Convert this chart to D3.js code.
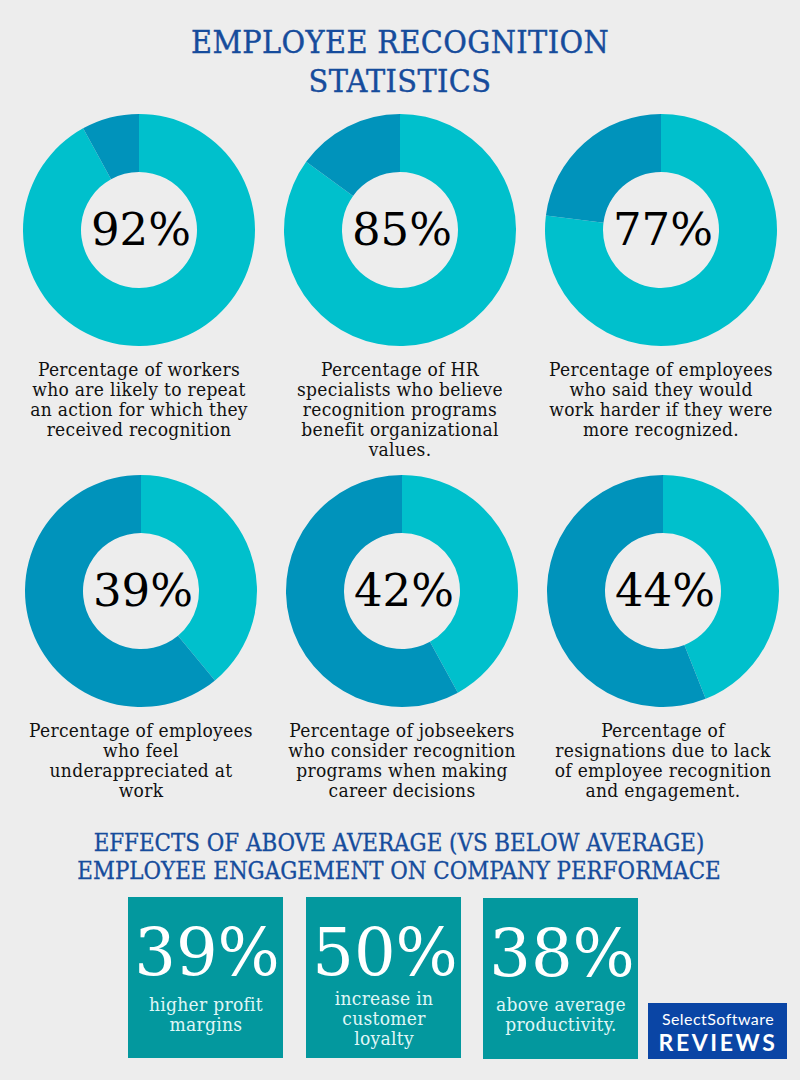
<!DOCTYPE html>
<html>
<head>
<meta charset="utf-8">
<script src="https://cdn.jsdelivr.net/npm/d3@7"></script>
<style>
  html, body { margin: 0; padding: 0; background: #ededed; }
  svg { display: block; }
  .slab { font-family: "DejaVu Serif Condensed", "DejaVu Serif", serif; }
  .wide { font-family: "DejaVu Serif", serif; }
</style>
</head>
<body>
<svg id="chart" width="800" height="1080"></svg>
<script>
// data
const titleLines = ["EMPLOYEE RECOGNITION", "STATISTICS"];
const donutValues = [92, 85, 77, 39, 42, 44];
const donutCaptions = [
  ["Percentage of workers", "who are likely to repeat", "an action for which they", "received recognition"],
  ["Percentage of HR", "specialists who believe", "recognition programs", "benefit organizational", "values."],
  ["Percentage of employees", "who said they would", "work harder if they were", "more recognized."],
  ["Percentage of employees", "who feel", "underappreciated at", "work"],
  ["Percentage of jobseekers", "who consider recognition", "programs when making", "career decisions"],
  ["Percentage of", "resignations due to lack", "of employee recognition", "and engagement."]
];
const subtitleLines = ["EFFECTS OF ABOVE AVERAGE (VS BELOW AVERAGE)", "EMPLOYEE ENGAGEMENT ON COMPANY PERFORMACE"];
const effectValues = [39, 50, 38];
const effectCaptions = [
  ["higher profit", "margins"],
  ["increase in", "customer", "loyalty"],
  ["above average", "productivity."]
];

const TEAL = "#00c0cc", DARK = "#0093bb", BOX = "#03989e", BLUE = "#164c9c";
const svg = d3.select("#chart");

svg.append("g").selectAll("text").data(titleLines).join("text")
  .attr("class", "slab")
  .attr("x", 400)
  .attr("y", (d, i) => 53 + i * 39)
  .attr("text-anchor", "middle")
  .attr("font-size", 32)
  .attr("letter-spacing", 0.4)
  .attr("fill", BLUE)
  .attr("stroke", BLUE)
  .attr("stroke-width", 0.4)
  .text(d => d);

// donuts
const pie = d3.pie().sort(null).startAngle(0).endAngle(2 * Math.PI);
const arc = d3.arc().innerRadius(58).outerRadius(116);
const col = d3.scalePoint().domain([0, 1, 2]).range([139, 661]);
const rowY = [230, 591];
const rowDx = [0, 2];
const captionY = [376, 737];

const donuts = svg.append("g").selectAll("g").data(donutValues).join("g")
  .attr("transform", (d, i) => {
    const r = Math.floor(i / 3);
    return `translate(${col(i % 3) + rowDx[r]},${rowY[r]})`;
  });

donuts.selectAll("path").data(d => pie([d, 100 - d])).join("path")
  .attr("d", arc)
  .attr("fill", (d, i) => i === 0 ? TEAL : DARK);

donuts.append("text")
  .attr("class", "wide")
  .attr("x", 2)
  .attr("y", 15)
  .attr("text-anchor", "middle")
  .attr("font-size", 45)
  .attr("fill", "#000")
  .text(d => d + "%");

donuts.each(function(d, i) {
  const r = Math.floor(i / 3);
  d3.select(this).append("g").selectAll("text").data(donutCaptions[i]).join("text")
    .attr("class", "slab")
    .attr("y", (t, k) => captionY[r] - rowY[r] + k * 20)
    .attr("text-anchor", "middle")
    .attr("font-size", 19)
    .attr("letter-spacing", 0.3)
    .attr("fill", "#111")
    .text(t => t);
});

svg.append("g").selectAll("text").data(subtitleLines).join("text")
  .attr("class", "slab")
  .attr("x", 399)
  .attr("y", (d, i) => 851 + i * 28)
  .attr("text-anchor", "middle")
  .attr("font-size", 23.8)
  .attr("fill", BLUE)
  .attr("stroke", BLUE)
  .attr("stroke-width", 0.3)
  .text(d => d);

// boxes along the bottom
const boxX = [128, 306, 483];
const boxY = [897, 897, 898];
const boxes = svg.append("g").selectAll("g").data(effectValues).join("g")
  .attr("transform", (d, i) => `translate(${boxX[i]},${boxY[i]})`);

boxes.append("rect")
  .attr("width", 155)
  .attr("height", 161)
  .attr("fill", BOX);

boxes.append("text")
  .attr("class", "wide")
  .attr("x", 79)
  .attr("y", 78)
  .attr("text-anchor", "middle")
  .attr("font-size", 65.5)
  .attr("fill", "#fff")
  .text(d => d + "%");

boxes.each(function(d, i) {
  const lines = effectCaptions[i];
  const y0 = (lines.length === 3 ? 108 : 114) + 897 - boxY[i];
  d3.select(this).append("g").selectAll("text").data(lines).join("text")
    .attr("class", "slab")
    .attr("x", 78)
    .attr("y", (t, k) => y0 + k * 20)
    .attr("text-anchor", "middle")
    .attr("font-size", 19)
    .attr("letter-spacing", 0.3)
    .attr("fill", "#e0f7f7")
    .text(t => t);
});

// logo
const logo = svg.append("g").attr("transform", "translate(648,1003)");
logo.append("rect").attr("width", 139).attr("height", 56).attr("fill", "#0a45a5");
logo.append("text")
  .attr("x", 70).attr("y", 22)
  .attr("text-anchor", "middle")
  .attr("font-family", "Lato, sans-serif")
  .attr("font-size", 16)
  .attr("letter-spacing", 0.45)
  .attr("fill", "#fff")
  .text("SelectSoftware");
logo.append("text")
  .attr("x", 70).attr("y", 48)
  .attr("text-anchor", "middle")
  .attr("font-family", "Lato, sans-serif")
  .attr("font-weight", 700)
  .attr("font-size", 23)
  .attr("letter-spacing", 2.6)
  .attr("fill", "#fff")
  .text("REVIEWS");
</script>
</body>
</html>
